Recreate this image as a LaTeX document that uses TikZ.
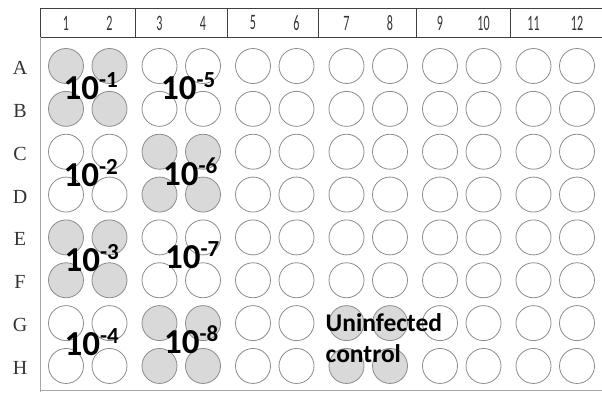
\documentclass[tikz,border=0pt]{standalone}
\usepackage{fontspec}
\usepackage{graphicx}
\setsansfont{Carlito}
\newfontfamily\rowfont{Liberation Serif}
\usetikzlibrary{positioning, calc}

\begin{document}
\begin{tikzpicture}[x=1pt, y=-1pt,
			well/.style={draw=black!45, circle, minimum size=35pt, inner sep=0pt, line width=0.8pt},
			headbox/.style={draw=black!75, line width=1pt},
			rule/.style={draw=black!35, line width=0.8pt},
			rowlabel/.style={font=\rowfont\fontsize{20}{20}\selectfont, text=black!80},
			collabel/.style={font=\sffamily\fontsize{22}{22}\selectfont, text=black!80, inner sep=0pt},
			dilution/.style={font=\sffamily\bfseries\fontsize{35}{35}\selectfont, anchor=base, inner sep=0pt},
			note/.style={font=\sffamily\bfseries\fontsize{25.5}{31}\selectfont, align=left, anchor=north west, inner sep=0pt}
			]
			\useasboundingbox (0,0) rectangle (602,392);
			\foreach \a/\b in {40/135, 135/227, 227/318, 318/416, 416/510, 510/602}
				\draw[headbox] (\a,8) rectangle (\b,37);
			\draw[rule] (40,37) -- (40,392);
			\draw[rule] (40,390) -- (602,390);
			\foreach \r/\flags [count=\i from 0] in {A/{1,0,0,0,0,0}, B/{1,0,0,0,0,0}, C/{0,1,0,0,0,0}, D/{0,1,0,0,0,0}, E/{1,0,0,0,0,0}, F/{1,0,0,0,0,0}, G/{0,1,0,1,0,0}, H/{0,1,0,1,0,0}} {
				\node[rowlabel] (row\r) at (20, 68+\i*42.85) {\r};
				\foreach \f [count=\p from 0] in \flags {
					\foreach \k in {0,1} {
						\pgfmathtruncatemacro\c{2*\p+\k+1}
						\ifnum\f=1 \def\wfill{black!15}\else\def\wfill{white}\fi
						\node[well, fill=\wfill] (\r\c) at (66+\p*93.5+\k*43.5, 66+\i*42.85) {};
					}
				}
			}
			\foreach \c in {1,...,12}
				\node[collabel] (col\c) at (A\c |- 0,23) {\scalebox{0.55}[1]{\c}};
			\node[dilution] (d1) at ($(A1)!0.5!(B2)+(3,12)$) {10\raisebox{12pt}{\fontsize{23}{23}\selectfont -1}};
			\node[dilution] (d2) at ($(C1)!0.5!(D2)+(3,13)$) {10\raisebox{12pt}{\fontsize{23}{23}\selectfont -2}};
			\node[dilution] (d3) at ($(E1)!0.5!(F2)+(4,13)$) {10\raisebox{12pt}{\fontsize{23}{23}\selectfont -3}};
			\node[dilution] (d4) at ($(G1)!0.5!(H2)+(4,11)$) {10\raisebox{12pt}{\fontsize{23}{23}\selectfont -4}};
			\node[dilution] (d5) at ($(A3)!0.5!(B4)+(7,12)$) {10\raisebox{12pt}{\fontsize{23}{23}\selectfont -5}};
			\node[dilution] (d6) at ($(C3)!0.5!(D4)+(9,12)$) {10\raisebox{12pt}{\fontsize{23}{23}\selectfont -6}};
			\node[dilution] (d7) at ($(E3)!0.5!(F4)+(11,10)$) {10\raisebox{12pt}{\fontsize{23}{23}\selectfont -7}};
			\node[dilution] (d8) at ($(G3)!0.5!(H4)+(10,9)$) {10\raisebox{12pt}{\fontsize{23}{23}\selectfont -8}};
			\node[note] (control) at ($(G7)+(-21,-10)$) {Uninfected\\control};
		\end{tikzpicture}
\end{document}
